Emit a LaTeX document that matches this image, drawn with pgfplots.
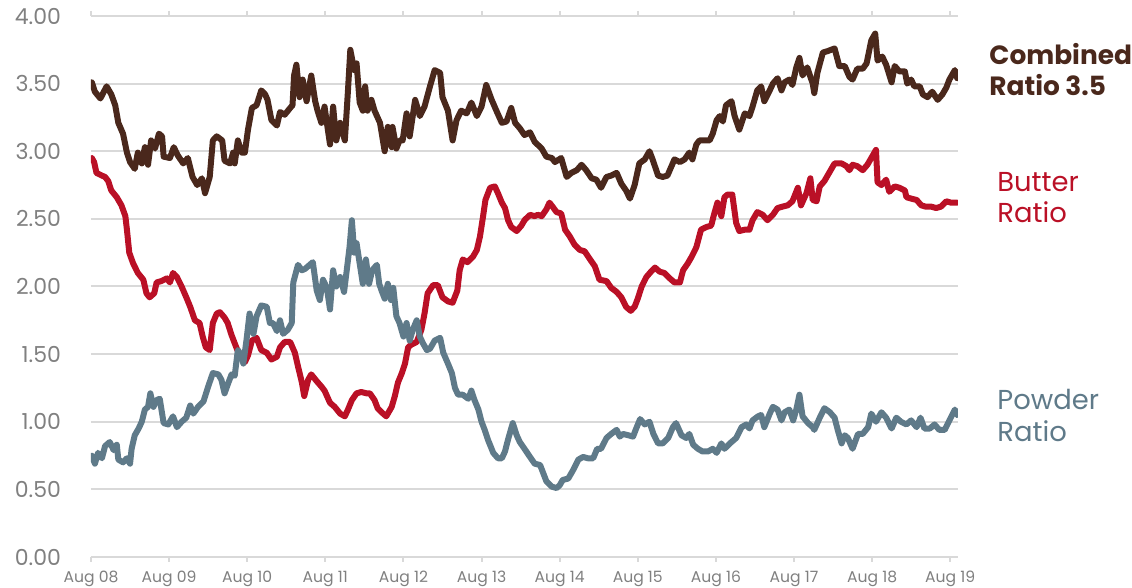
\documentclass[border=0pt]{standalone}
\usepackage{pgfplots}
\pgfplotsset{compat=1.18}
\usepackage{fontspec}
\setmainfont{Poppins}
\definecolor{combc}{RGB}{74,40,28}
\definecolor{butc}{RGB}{186,16,38}
\definecolor{powc}{RGB}{95,122,137}
\definecolor{gridc}{RGB}{217,217,217}
\definecolor{tickc}{RGB}{128,128,128}
\begin{document}
\begin{tikzpicture}
\begin{axis}[
  at={(0,0)}, anchor=south west,
  scale only axis, width=433.5pt, height=270.5pt,
  xmin=0, xmax=11.1, ymin=0, ymax=4,
  axis line style={draw=none},
  ymajorgrids, major grid style={draw=gridc, line width=1pt},
  ytick={0,0.5,...,4},
  yticklabel style={font=\fontsize{11}{13}\selectfont, text=tickc, xshift=-9pt},
  /pgf/number format/assume math mode=true,
  /pgf/number format/.cd, fixed, fixed zerofill, precision=2, /pgfplots/.cd,
  ytick style={draw=none},
  xtick={0,...,11},
  xticklabels={Aug 08,Aug 09,Aug 10,Aug 11,Aug 12,Aug 13,Aug 14,Aug 15,Aug 16,Aug 17,Aug 18,Aug 19},
  xticklabel style={font=\fontsize{7.8}{9}\selectfont, text=tickc, yshift=-1pt},
  tick align=outside, major tick length=2.5pt,
  xtick style={draw=gridc, line width=1pt},
  every axis plot/.append style={line width=3pt, line join=round, line cap=round},
]
% Butter
\addplot[butc] table {
0.01 2.95
0.04 2.92
0.07 2.84
0.14 2.82
0.18 2.81
0.22 2.78
0.26 2.71
0.33 2.66
0.39 2.60
0.44 2.52
0.46 2.42
0.49 2.25
0.54 2.17
0.60 2.10
0.67 2.05
0.71 1.95
0.75 1.92
0.81 1.95
0.84 2.03
0.90 2.04
0.97 2.06
1.01 2.03
1.05 2.10
1.10 2.07
1.16 2.00
1.22 1.92
1.27 1.85
1.33 1.75
1.39 1.73
1.43 1.63
1.47 1.55
1.52 1.53
1.56 1.73
1.61 1.80
1.65 1.81
1.71 1.77
1.75 1.73
1.80 1.64
1.86 1.55
1.91 1.48
1.97 1.44
2.01 1.49
2.06 1.60
2.12 1.62
2.18 1.53
2.25 1.51
2.31 1.46
2.38 1.48
2.42 1.55
2.48 1.59
2.55 1.59
2.61 1.51
2.65 1.41
2.70 1.29
2.73 1.19
2.78 1.31
2.82 1.35
2.89 1.30
2.95 1.26
2.99 1.23
3.06 1.14
3.12 1.11
3.19 1.06
3.25 1.04
3.29 1.09
3.34 1.16
3.40 1.21
3.46 1.22
3.53 1.21
3.57 1.21
3.63 1.16
3.67 1.10
3.74 1.06
3.78 1.04
3.85 1.11
3.89 1.19
3.93 1.29
3.98 1.36
4.02 1.43
4.06 1.55
4.10 1.57
4.17 1.59
4.23 1.68
4.27 1.80
4.31 1.95
4.38 2.01
4.44 2.01
4.50 1.92
4.57 1.89
4.63 1.88
4.69 1.97
4.72 2.12
4.76 2.20
4.82 2.18
4.89 2.22
4.94 2.27
4.98 2.37
5.02 2.52
5.05 2.64
5.11 2.73
5.17 2.74
5.21 2.69
5.26 2.62
5.30 2.58
5.34 2.49
5.38 2.44
5.45 2.41
5.51 2.45
5.55 2.49
5.62 2.53
5.68 2.52
5.72 2.53
5.77 2.52
5.83 2.57
5.87 2.62
5.91 2.59
5.96 2.55
6.02 2.54
6.07 2.42
6.13 2.37
6.19 2.31
6.26 2.27
6.32 2.26
6.39 2.20
6.45 2.15
6.51 2.05
6.60 2.04
6.66 1.99
6.73 1.96
6.79 1.92
6.85 1.85
6.91 1.82
6.96 1.85
7.00 1.91
7.05 2.00
7.11 2.07
7.17 2.11
7.22 2.14
7.28 2.11
7.34 2.10
7.41 2.06
7.47 2.03
7.54 2.03
7.58 2.12
7.64 2.17
7.69 2.22
7.75 2.29
7.81 2.42
7.88 2.44
7.94 2.45
7.98 2.54
8.02 2.62
8.07 2.52
8.11 2.66
8.15 2.68
8.21 2.68
8.26 2.47
8.30 2.41
8.37 2.42
8.43 2.42
8.47 2.49
8.53 2.55
8.60 2.53
8.66 2.49
8.73 2.53
8.79 2.58
8.85 2.59
8.92 2.60
8.98 2.63
9.05 2.73
9.09 2.60
9.16 2.69
9.21 2.80
9.24 2.64
9.29 2.63
9.33 2.74
9.39 2.78
9.46 2.85
9.52 2.91
9.61 2.91
9.67 2.89
9.71 2.86
9.75 2.90
9.81 2.89
9.88 2.86
9.94 2.90
9.99 2.95
10.05 3.01
10.07 2.77
10.12 2.75
10.18 2.79
10.22 2.70
10.29 2.74
10.35 2.73
10.42 2.71
10.44 2.66
10.50 2.65
10.57 2.64
10.63 2.60
10.69 2.59
10.76 2.59
10.82 2.58
10.88 2.59
10.95 2.63
11.01 2.62
11.09 2.62
};
% Powder
\addplot[powc] table {
0.01 0.75
0.05 0.69
0.09 0.77
0.14 0.73
0.18 0.82
0.24 0.85
0.29 0.79
0.33 0.83
0.35 0.72
0.41 0.70
0.46 0.73
0.50 0.69
0.52 0.80
0.56 0.90
0.61 0.95
0.65 1.00
0.69 1.09
0.73 1.11
0.76 1.21
0.80 1.11
0.84 1.16
0.88 1.17
0.93 0.99
0.99 0.98
1.05 1.04
1.10 0.96
1.16 1.00
1.22 1.03
1.27 1.12
1.31 1.06
1.37 1.11
1.44 1.15
1.50 1.26
1.56 1.36
1.63 1.35
1.67 1.31
1.71 1.21
1.76 1.29
1.80 1.35
1.84 1.34
1.88 1.53
1.93 1.49
1.95 1.43
1.99 1.60
2.03 1.80
2.08 1.65
2.12 1.78
2.18 1.86
2.25 1.85
2.29 1.73
2.33 1.73
2.38 1.67
2.42 1.75
2.46 1.65
2.52 1.68
2.57 1.73
2.59 2.03
2.65 2.16
2.70 2.12
2.74 2.13
2.80 2.16
2.84 2.18
2.89 1.97
2.93 1.90
2.97 2.05
3.02 1.99
3.06 1.83
3.10 2.12
3.14 2.00
3.19 2.07
3.24 1.96
3.27 2.10
3.31 2.29
3.34 2.49
3.37 2.25
3.40 2.32
3.44 2.17
3.48 2.02
3.52 2.20
3.56 2.02
3.60 2.12
3.66 2.16
3.69 2.02
3.72 1.97
3.76 1.91
3.80 2.02
3.84 1.90
3.87 1.99
3.91 1.78
3.95 1.73
4.00 1.63
4.04 1.73
4.08 1.60
4.12 1.68
4.17 1.75
4.21 1.63
4.25 1.58
4.30 1.53
4.34 1.54
4.40 1.60
4.47 1.62
4.51 1.51
4.57 1.43
4.62 1.36
4.66 1.25
4.70 1.20
4.76 1.20
4.83 1.17
4.87 1.23
4.91 1.16
4.96 1.09
5.00 1.00
5.04 0.94
5.08 0.87
5.15 0.77
5.21 0.73
5.26 0.73
5.30 0.78
5.34 0.87
5.40 0.99
5.45 0.90
5.49 0.85
5.55 0.80
5.62 0.74
5.68 0.69
5.75 0.68
5.79 0.62
5.83 0.56
5.90 0.52
5.96 0.51
6.00 0.53
6.04 0.57
6.11 0.58
6.17 0.64
6.24 0.72
6.30 0.74
6.36 0.73
6.43 0.73
6.48 0.80
6.53 0.80
6.60 0.88
6.66 0.91
6.73 0.94
6.77 0.89
6.81 0.91
6.88 0.90
6.94 0.89
6.98 0.95
7.03 1.02
7.09 0.98
7.15 1.00
7.20 0.91
7.26 0.84
7.32 0.84
7.39 0.88
7.45 0.96
7.49 0.99
7.56 0.90
7.62 0.88
7.66 0.91
7.71 0.83
7.77 0.80
7.83 0.78
7.90 0.78
7.96 0.80
8.01 0.77
8.07 0.84
8.11 0.80
8.18 0.84
8.26 0.88
8.33 0.96
8.39 0.98
8.43 0.95
8.47 1.01
8.54 1.04
8.58 1.05
8.62 0.96
8.69 1.06
8.73 1.11
8.79 1.09
8.84 1.01
8.88 1.07
8.94 1.09
8.99 1.01
9.03 1.09
9.07 1.20
9.11 1.04
9.18 0.99
9.24 0.96
9.26 0.94
9.33 1.03
9.39 1.10
9.46 1.07
9.52 1.03
9.56 0.94
9.61 0.84
9.65 0.90
9.69 0.88
9.75 0.80
9.82 0.91
9.88 0.91
9.95 0.96
9.99 1.06
10.05 1.00
10.12 1.07
10.18 1.03
10.25 0.95
10.31 1.03
10.37 1.00
10.44 0.98
10.50 1.01
10.57 0.96
10.62 1.03
10.67 0.95
10.74 0.95
10.80 0.98
10.86 0.94
10.93 0.94
10.99 1.01
11.06 1.09
11.09 1.05
};
% Combined
\addplot[combc] table {
0.01 3.51
0.05 3.44
0.12 3.39
0.20 3.48
0.26 3.42
0.31 3.34
0.35 3.21
0.41 3.13
0.46 2.99
0.50 2.92
0.56 2.87
0.60 2.99
0.65 2.91
0.69 3.03
0.73 2.90
0.77 3.08
0.82 3.02
0.87 3.13
0.91 3.11
0.93 2.96
1.01 2.95
1.06 3.03
1.11 2.97
1.18 2.91
1.24 2.95
1.30 2.81
1.36 2.75
1.42 2.80
1.46 2.69
1.52 2.81
1.56 3.08
1.61 3.11
1.68 3.08
1.71 2.93
1.78 2.91
1.82 2.99
1.84 2.91
1.88 3.08
1.93 2.99
1.97 2.99
2.01 3.16
2.06 3.32
2.12 3.34
2.18 3.45
2.23 3.42
2.26 3.38
2.31 3.23
2.38 3.19
2.42 3.29
2.48 3.27
2.55 3.32
2.58 3.34
2.60 3.56
2.63 3.64
2.67 3.40
2.71 3.53
2.76 3.37
2.82 3.56
2.87 3.37
2.90 3.30
2.95 3.21
2.99 3.33
3.06 3.05
3.10 3.33
3.14 3.08
3.19 3.21
3.25 3.08
3.29 3.45
3.32 3.75
3.37 3.60
3.40 3.65
3.44 3.36
3.48 3.30
3.51 3.48
3.54 3.30
3.59 3.38
3.63 3.30
3.70 3.21
3.76 3.00
3.80 3.18
3.85 3.03
3.86 3.18
3.91 3.02
3.95 3.08
3.99 3.08
4.04 3.28
4.08 3.11
4.15 3.38
4.21 3.26
4.27 3.33
4.34 3.48
4.40 3.60
4.47 3.58
4.50 3.40
4.57 3.30
4.63 3.08
4.68 3.23
4.74 3.30
4.81 3.28
4.87 3.36
4.94 3.26
5.00 3.33
5.06 3.49
5.13 3.38
5.19 3.30
5.26 3.21
5.32 3.22
5.38 3.32
5.43 3.21
5.49 3.17
5.55 3.12
5.62 3.14
5.68 3.07
5.77 3.02
5.83 2.96
5.90 2.95
5.94 2.92
6.02 2.95
6.09 2.81
6.15 2.84
6.22 2.86
6.28 2.90
6.34 2.86
6.41 2.80
6.47 2.79
6.53 2.73
6.60 2.81
6.66 2.82
6.73 2.84
6.79 2.76
6.85 2.71
6.90 2.65
6.96 2.75
7.02 2.91
7.09 2.94
7.15 3.00
7.19 2.94
7.26 2.82
7.32 2.81
7.38 2.82
7.41 2.86
7.47 2.94
7.54 2.92
7.60 2.94
7.66 2.99
7.70 2.94
7.75 3.05
7.79 3.08
7.86 3.08
7.92 3.08
7.96 3.13
8.01 3.23
8.05 3.26
8.09 3.22
8.13 3.34
8.20 3.37
8.24 3.26
8.30 3.16
8.37 3.28
8.43 3.26
8.47 3.33
8.53 3.45
8.58 3.48
8.62 3.37
8.69 3.45
8.73 3.50
8.79 3.54
8.84 3.45
8.88 3.51
8.94 3.53
8.98 3.49
9.03 3.62
9.07 3.69
9.11 3.56
9.17 3.62
9.24 3.50
9.26 3.43
9.30 3.58
9.37 3.73
9.43 3.74
9.52 3.76
9.58 3.63
9.65 3.63
9.71 3.55
9.75 3.53
9.81 3.61
9.88 3.61
9.93 3.65
9.99 3.82
10.04 3.87
10.07 3.67
10.13 3.70
10.18 3.64
10.25 3.51
10.29 3.63
10.35 3.59
10.42 3.59
10.45 3.50
10.50 3.53
10.54 3.48
10.61 3.48
10.65 3.42
10.71 3.40
10.77 3.44
10.84 3.38
10.90 3.42
10.95 3.47
10.99 3.53
11.06 3.60
11.09 3.54
};
\end{axis}
\begin{scope}[every node/.style={inner sep=0pt, anchor=base west, font=\fontsize{13.7}{15}\selectfont}]
\node[text=combc, font=\fontsize{13.2}{15}\selectfont\bfseries] at (449pt,246pt) {Combined};
\node[text=combc, font=\fontsize{13.2}{15}\selectfont\bfseries] at (449pt,230.5pt) {Ratio 3.5};
\node[text=butc] at (453pt,182.5pt) {Butter};
\node[text=butc] at (453pt,167pt) {Ratio};
\node[text=powc] at (453pt,73.5pt) {Powder};
\node[text=powc] at (453pt,57.5pt) {Ratio};
\end{scope}
\pgfresetboundingbox
\path[use as bounding box] (-45.5pt,-15.5pt) rectangle (520.5pt,278.5pt);
\end{tikzpicture}
\end{document}
